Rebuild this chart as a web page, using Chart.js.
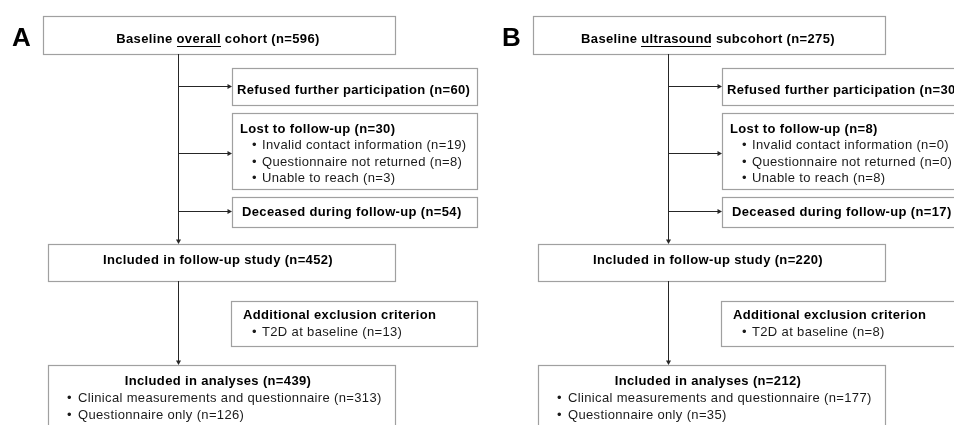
<!DOCTYPE html>
<html>
<head>
<meta charset="utf-8">
<script src="https://cdn.jsdelivr.net/npm/chart.js@4.4.1/dist/chart.umd.min.js"></script>
<style>
html,body{margin:0;padding:0;background:#fff;}
#wrap{width:954px;height:425px;}
</style>
</head>
<body>
<div id="wrap"><canvas id="c" width="954" height="425"></canvas></div>
<script>
// ---- data ----
const panels = ['A', 'B'];
const baselineWord = ['overall', 'ultrasound'];
const baselineNoun = ['cohort', 'subcohort'];
const baselineN = [596, 275];
const refusedN = [60, 30];
const lostN = [30, 8];
const lostReasons = ['Invalid contact information', 'Questionnaire not returned', 'Unable to reach'];
const lostReasonN = [[19, 8, 3], [0, 0, 8]];
const deceasedN = [54, 17];
const followUpN = [452, 220];
const exclusionReasons = ['T2D at baseline'];
const exclusionN = [[13], [8]];
const analysesN = [439, 212];
const analysesGroups = ['Clinical measurements and questionnaire', 'Questionnaire only'];
const analysesGroupN = [[313, 126], [177, 35]];

// ---- layout (chart units) ----
const L = {
  offset: [0, 490],
  label: {x: 12, y: 46},
  top: {x: 43, y: 16, w: 352, h: 38},
  refused: {x: 232, y: 68, w: 245, h: 37},
  lost: {x: 232, y: 113, w: 245, h: 76},
  deceased: {x: 232, y: 197, w: 245, h: 30},
  followup: {x: 48, y: 244, w: 347, h: 37},
  additional: {x: 231, y: 301, w: 246, h: 45},
  analyses: {x: 48, y: 365, w: 347, h: 64},
  trunkX: 178,
  centerX: 218
};
const BORDER = '#a0a0a0';
const LINE = '#262626';
const BOLD = 'bold 13px "Liberation Sans", Arial, sans-serif';
const REG = '13px "Liberation Sans", Arial, sans-serif';
const SPACING = '0.35px';

const flowPlugin = {
  id: 'flow',
  afterDraw(chart) {
    const ctx = chart.ctx;
    const xs = chart.scales.x, ys = chart.scales.y;
    const X = v => xs.getPixelForValue(v);
    const Y = v => ys.getPixelForValue(v);
    ctx.save();
    if ('letterSpacing' in ctx) ctx.letterSpacing = SPACING;

    function box(b, o) {
      ctx.strokeStyle = BORDER; ctx.lineWidth = 1.2;
      const x0 = Math.round(X(b.x + o)) + 0.5, y0 = Math.round(Y(b.y)) + 0.5;
      const x1 = Math.round(X(b.x + b.w + o)) + 0.5, y1 = Math.round(Y(b.y + b.h)) + 0.5;
      ctx.strokeRect(x0, y0, x1 - x0, y1 - y0);
    }
    function text(s, x, y, font, color, align) {
      ctx.font = font; ctx.fillStyle = color || '#000';
      ctx.textAlign = align || 'left'; ctx.textBaseline = 'alphabetic';
      ctx.fillText(s, X(x), Y(y));
    }
    function arrowH(x0, x1, y) {
      ctx.strokeStyle = LINE; ctx.fillStyle = LINE; ctx.lineWidth = 1;
      const yy = Math.round(Y(y)) + 0.5;
      ctx.beginPath(); ctx.moveTo(Math.round(X(x0)) + 0.5, yy); ctx.lineTo(X(x1) - 3, yy); ctx.stroke();
      ctx.beginPath(); ctx.moveTo(X(x1), yy); ctx.lineTo(X(x1) - 4.5, yy - 2.5); ctx.lineTo(X(x1) - 4.5, yy + 2.5); ctx.closePath(); ctx.fill();
    }
    function arrowV(x, y0, y1, head) {
      ctx.strokeStyle = LINE; ctx.fillStyle = LINE; ctx.lineWidth = 1;
      const xx = Math.round(X(x)) + 0.5;
      ctx.beginPath(); ctx.moveTo(xx, Y(y0)); ctx.lineTo(xx, Y(y1) - (head ? 3 : 0)); ctx.stroke();
      if (head) {
        ctx.beginPath(); ctx.moveTo(xx, Y(y1)); ctx.lineTo(xx - 2.5, Y(y1) - 4.5); ctx.lineTo(xx + 2.5, Y(y1) - 4.5); ctx.closePath(); ctx.fill();
      }
    }

    panels.forEach((p, i) => {
      const o = L.offset[i];
      // panel letter
      text(p, L.label.x + o, L.label.y, 'bold 26px "Liberation Sans", Arial, sans-serif', '#000');

      // boxes
      ['top', 'refused', 'lost', 'deceased', 'followup', 'additional', 'analyses'].forEach(k => box(L[k], o));

      // connectors
      arrowV(L.trunkX + o, L.top.y + L.top.h, L.followup.y, true);
      arrowV(L.trunkX + o, L.followup.y + L.followup.h, L.analyses.y, true);
      arrowH(L.trunkX + o, L.refused.x + o, 86);
      arrowH(L.trunkX + o, L.lost.x + o, 153);
      arrowH(L.trunkX + o, L.deceased.x + o, 211);

      // top box, centred with underlined word
      ctx.font = BOLD;
      const p1 = 'Baseline ', p2 = baselineWord[i], p3 = ' ' + baselineNoun[i] + ' (n=' + baselineN[i] + ')';
      const w1 = ctx.measureText(p1).width, w2 = ctx.measureText(p2).width, w3 = ctx.measureText(p3).width;
      const cx = X(L.centerX + o), by = Y(43);
      let sx = cx - (w1 + w2 + w3) / 2;
      ctx.fillStyle = '#000'; ctx.textAlign = 'left'; ctx.textBaseline = 'alphabetic';
      ctx.fillText(p1, sx, by);
      ctx.fillText(p2, sx + w1, by);
      ctx.fillText(p3, sx + w1 + w2, by);
      ctx.fillRect(Math.round(sx + w1), Math.round(Y(46)), Math.round(w2 - 0.3), 1);

      // refused
      text('Refused further participation (n=' + refusedN[i] + ')', 237 + o, 93.5, BOLD);
      // lost
      text('Lost to follow-up (n=' + lostN[i] + ')', 240 + o, 132.5, BOLD);
      const ly = [149, 165.5, 182];
      lostReasons.forEach((r, j) => {
        text('\u2022', 252 + o, ly[j], REG, '#1a1a1a');
        text(r + ' (n=' + lostReasonN[i][j] + ')', 262 + o, ly[j], REG, '#1a1a1a');
      });
      // deceased
      text('Deceased during follow-up (n=' + deceasedN[i] + ')', 242 + o, 215.5, BOLD);
      // follow-up
      text('Included in follow-up study (n=' + followUpN[i] + ')', L.centerX + o, 264, BOLD, '#000', 'center');
      // additional exclusion
      text('Additional exclusion criterion', 243 + o, 319, BOLD);
      exclusionReasons.forEach((r, j) => {
        text('\u2022', 252 + o, 336 + j * 16.5, REG, '#1a1a1a');
        text(r + ' (n=' + exclusionN[i][j] + ')', 262 + o, 336 + j * 16.5, REG, '#1a1a1a');
      });
      // analyses
      text('Included in analyses (n=' + analysesN[i] + ')', L.centerX + o, 385, BOLD, '#000', 'center');
      const ay = [402, 418.5];
      analysesGroups.forEach((g, j) => {
        text('\u2022', 67 + o, ay[j], REG, '#1a1a1a');
        text(g + ' (n=' + analysesGroupN[i][j] + ')', 78 + o, ay[j], REG, '#1a1a1a');
      });
    });
    ctx.restore();
  }
};

new Chart(document.getElementById('c'), {
  type: 'scatter',
  data: { datasets: [{ data: [], pointRadius: 0 }] },
  options: {
    responsive: false,
    animation: false,
    devicePixelRatio: 1,
    layout: { padding: 0 },
    plugins: { legend: { display: false }, tooltip: { enabled: false } },
    scales: {
      x: { type: 'linear', min: 0, max: 954, display: false },
      y: { type: 'linear', min: 0, max: 425, reverse: true, display: false }
    }
  },
  plugins: [flowPlugin]
});
</script>
</body>
</html>
